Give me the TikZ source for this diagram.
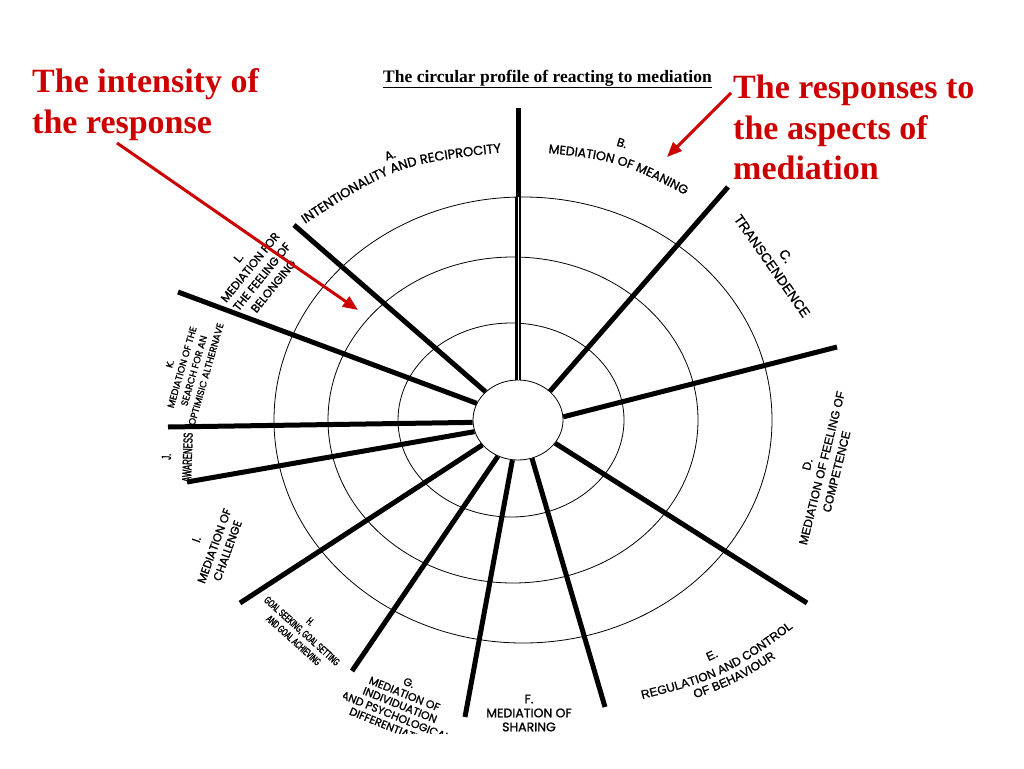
\documentclass[tikz,border=0pt]{standalone}
\usepackage{fontspec}
\setmainfont{Liberation Serif}
\newfontfamily\gothic[FakeBold=1.2]{Poppins}
\newfontfamily\arial[FakeBold=1]{Liberation Sans}
\newfontfamily\narrow[FakeStretch=0.6,FakeBold=1.5]{Liberation Sans}
\usetikzlibrary{shapes.geometric,decorations.text,arrows.meta}
\definecolor{NoteRed}{RGB}{204,0,0}

\begin{document}
\begin{tikzpicture}[x=1pt,y=-1pt,
  ring/.style={line width=0.8pt},
  spoke/.style={line width=5pt},
  hub/.style={ellipse,draw,line width=0.8pt,fill=white,minimum width=90pt,minimum height=80pt,inner sep=0pt},
  lbl/.style n args={3}{font=#1\fontsize{#2}{#3}\selectfont,align=center,inner sep=0pt},
  curved/.style={decorate,decoration={text along path,text align=center,text={#1}}},
  note/.style={anchor=north west,align=left,inner sep=0pt,text=NoteRed,font=\bfseries\fontsize{34}{40.5}\selectfont},
  pointer/.style={draw=NoteRed,line width=3pt,-{Triangle[length=15pt,width=12pt]}}]
\useasboundingbox (0,0) rectangle (1024,768);
\fill[white] (0,0) rectangle (1024,768);

% rings and hub
\foreach \cx/\rx/\ry in {523/249/223,513/185/163,511/113/97}
  \draw[ring] (\cx,420) ellipse [x radius=\rx,y radius=\ry];
\node[hub] (hub) at (518,420) {};

% spokes
\foreach \a/\x/\y [count=\i] in {90/518/108,42/728/187,4/837/347,328/807/603,290/605/707,262/465/717,241/352/671,215/240/603,195/187/482,183/168/427,158/178/292,139/294/225}{
  \coordinate (end\i) at (\x,\y);
  \draw[spoke] (hub.\a) -- (end\i);
}
\coordinate (ringtop) at (518,197);
\draw[line width=2.8pt,double=white,double distance=0.9pt] (hub.90) -- (ringtop);

% aspects
\path[curved={|\gothic\fontsize{13}{14}\selectfont|INTENTIONALITY AND RECIPROCITY}] (287,236) .. controls (395,164) .. (523,150);
\node[lbl={\gothic}{12}{14},rotate=20] (la) at (390,155) {A.};
\path[curved={|\gothic\fontsize{12.5}{14}\selectfont|MEDIATION OF MEANING}] (517,150) .. controls (621,160) .. (713,210);
\node[lbl={\gothic}{12}{14},rotate=-17] (lb) at (622,143) {B.};
\node[lbl={\arial}{13.5}{17},rotate=-55] (lc) at (779,261) {C.\\TRANSCENDENCE};
\node[lbl={\arial}{11.8}{15},rotate=76] (ld) at (822,468) {D.\\MEDIATION OF FEELING OF\\COMPETENCE};
\path[curved={|\arial\fontsize{12}{12}\selectfont|REGULATION AND CONTROL}] (601,709) .. controls (726,679) .. (827,602);
\path[curved={|\arial\fontsize{12}{12}\selectfont|OF BEHAVIOUR}] (655,712) .. controls (738,684) .. (811,634);
\node[lbl={\arial}{12}{14},rotate=25] (le) at (712,655) {E.};
\node[lbl={\gothic}{12.5}{14}] (lf) at (529,713) {F.\\MEDIATION OF\\SHARING};
\begin{scope}
  \clip (343,655) rectangle (453,733);
  \node[lbl={\gothic}{11}{12},rotate=-22] (lg) at (400,705) {G.\\MEDIATION OF\\INDIVIDUATION\\AND PSYCHOLOGICAL\\DIFFERENTIATION};
\end{scope}
\node[lbl={\narrow}{10.5}{12.5},rotate=-42] (lh) at (302,631) {H.\\GOAL SEEKING, GOAL SETTING\\AND GOAL ACHIEVING};
\node[lbl={\gothic}{11.5}{14},rotate=70] (li) at (212,545) {I.\\[5pt]MEDIATION OF\\CHALLENGE};
\node[lbl={\narrow}{13}{15},rotate=88] (lj) at (177,457) {J.\\[6pt]AWARENESS};
\node[lbl={\gothic}{9.5}{12.5},rotate=74] (lk) at (188,369) {K.\\MEDIATION OF THE\\SEARCH FOR AN\\OPTIMISIC ALTHERNAVE};
\node[lbl={\gothic}{11.5}{15},rotate=51] (ll) at (256,272) {L.\\MEDIATION FOR\\THE FEELING OF\\BELONGING};

% title and notes
\node[anchor=base west,inner sep=0pt,font=\bfseries\fontsize{17.5}{20}\selectfont] (title) at (383,82) {\underline{The circular profile of reacting to mediation}};
\node[note] (intensity) at (32,68.5) {The intensity of\\the response};
\node[note] (aspects) at (733,75) {The responses to\\the aspects of\\mediation};
\coordinate (p1) at (117,143);
\coordinate (q1) at (358,310);
\coordinate (p2) at (731,93);
\coordinate (q2) at (667,157);
\draw[pointer] (p1) -- (q1);
\draw[pointer] (p2) -- (q2);
\end{tikzpicture}
\end{document}
